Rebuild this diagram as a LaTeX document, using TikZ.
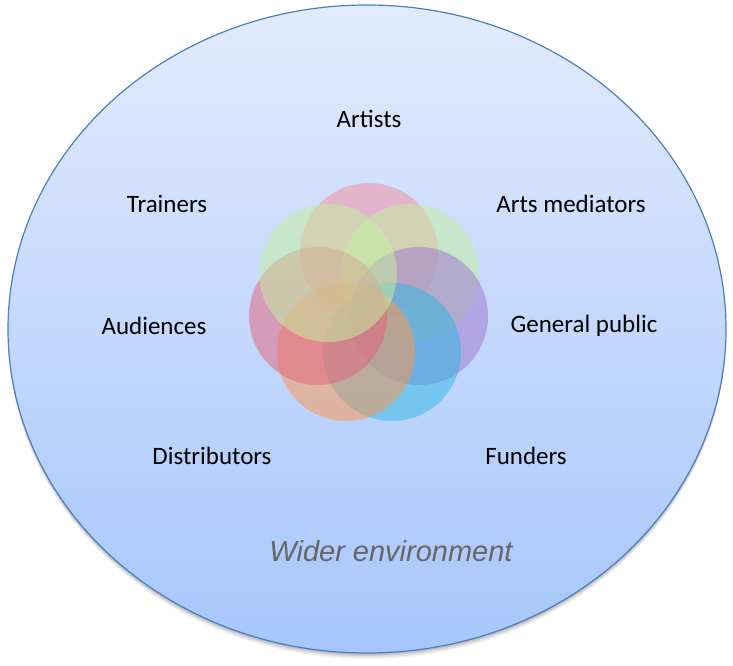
\documentclass[tikz,border=0pt]{standalone}
\usepackage{fontspec}
\setmainfont{Carlito}
\newfontfamily\arialfont{Liberation Sans}
\begin{document}
\begin{tikzpicture}[x=1pt,y=-1pt,
  petal/.style={circle, draw=none, minimum size=138pt, inner sep=0pt, fill opacity=0.52},
  lbl/.style={font=\fontsize{25}{29}\selectfont, text=black, inner sep=0pt, anchor=center},
  env/.style={font=\arialfont\itshape\fontsize{29}{34}\selectfont, text=black!60, inner sep=0pt}]
\definecolor{bgtop}{RGB}{226,235,253}
\definecolor{bgbot}{RGB}{166,198,252}
\definecolor{rim}{RGB}{76,126,192}
\definecolor{cpink}{RGB}{244,142,158}
\definecolor{cgreen}{RGB}{196,240,160}
\definecolor{cpurple}{RGB}{160,118,206}
\definecolor{ccyan}{RGB}{50,184,226}
\definecolor{corange}{RGB}{252,150,80}
\definecolor{cred}{RGB}{226,100,124}
\useasboundingbox (0,0) rectangle (733,665);
% shadow
\foreach \d/\o in {6/0.05,4.5/0.07,3/0.09,1.5/0.1}
  \fill[black, opacity=\o] (367,{329+\d}) ellipse [x radius=359, y radius=324];
% outer ellipse
\shade[top color=bgtop, bottom color=bgbot, draw=rim, line width=1.2pt]
  (367,329) ellipse [x radius=359, y radius=324];
\node[coordinate] (env) at (367,329) {};
% petals
\node[petal, fill=cpink] (cArtists) at (369,252) {};
\node[petal, fill=cgreen] (cMediators) at (410,273) {};
\node[petal, fill=cpurple] (cPublic) at (419,316) {};
\node[petal, fill=ccyan] (cFunders) at (392,352) {};
\node[petal, fill=corange] (cDistributors) at (346,352) {};
\node[petal, fill=cred] (cAudiences) at (318,316) {};
\node[petal, fill=cgreen] (cTrainers) at (328,273) {};
% labels
\node[lbl] (Artists) at (369,119) {Artists};
\node[lbl] (Trainers) at (167,204) {Trainers};
\node[lbl] (Mediators) at (571,204) {Arts mediators};
\node[lbl] (Audiences) at (154,326) {Audiences};
\node[lbl] (Public) at (584,326) {General public};
\node[lbl] (Distributors) at (212,456) {Distributors};
\node[lbl] (Funders) at (526,456) {Funders};
\node[env] (Wider) at (391,551) {Wider environment};
\end{tikzpicture}
\end{document}
